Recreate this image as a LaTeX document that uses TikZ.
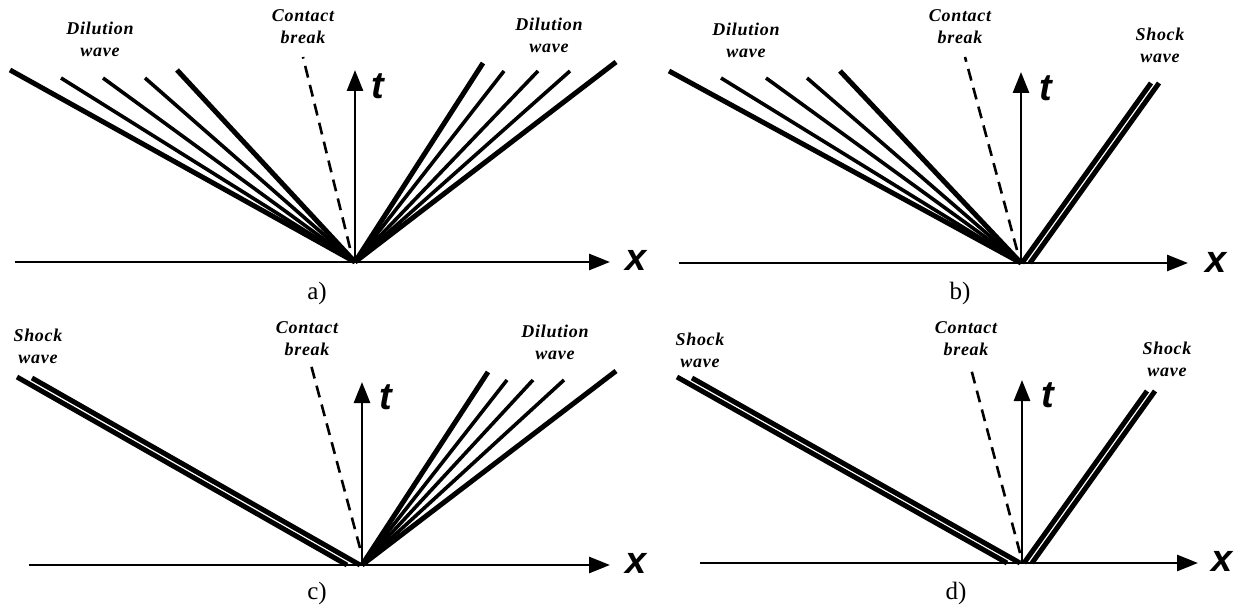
\documentclass[tikz,border=0pt]{standalone}
\usepackage{fontspec}
\setmainfont{Liberation Serif}
\newfontfamily\axfont{Liberation Sans}
\usetikzlibrary{arrows.meta}
\begin{document}
\begin{tikzpicture}[x=1pt,y=-1pt,
  axis/.style={line width=2.8pt,-{Triangle[length=21pt,width=16pt]}},
  wthick/.style={line width=5pt},
  wthin/.style={line width=3.6pt},
  cbreak/.style={line width=2.6pt,dash pattern=on 12pt off 7.5pt},
  shk/.style={line width=5pt},
  wlbl/.style={font=\fontsize{18}{22}\selectfont\bfseries\itshape\addfontfeature{LetterSpace=4},align=center,inner sep=0pt},
  axl/.style={font=\axfont\fontsize{38}{38}\selectfont\bfseries\itshape,inner sep=0pt},
  sub/.style={font=\fontsize{25}{25}\selectfont,inner sep=0pt}]
\useasboundingbox (0,0) rectangle (1236,609);
\fill[white] (0,0) rectangle (1236,609);

% ---------------- panel a ----------------
\coordinate (Oa) at (355,262);
\coordinate (axa0) at (15,262);
\coordinate (axa1) at (610,262);
\coordinate (ta) at (355,70);
\draw[axis] (axa0) -- (axa1);
\draw[axis] (Oa) -- (ta);
\coordinate (cba0) at (350,248);
\coordinate (cba1) at (303,57);
\draw[cbreak] (cba0) -- (cba1);
\foreach \px/\py/\s in {10/70/wthick,61/78/wthin,103/78/wthin,145/78/wthin,177/70/wthick,
                        483/63/wthick,504/71/wthin,538/71/wthin,570/71/wthin,616/62/wthick}
  \draw[\s] (Oa) -- (\px,\py);
\node[wlbl] (dwa1) at (100,39) {Dilution\\wave};
\node[wlbl] (cba) at (303,27) {Contact\\break};
\node[wlbl] (dwa2) at (549,35) {Dilution\\wave};
\node[axl] (tla) at (378,86) {t};
\node[axl] (xla) at (636,260) {x};
\node[sub] (suba) at (317,293) {a)};

% ---------------- panel b ----------------
\coordinate (Ob) at (1021,263);
\coordinate (axb0) at (679,263);
\coordinate (axb1) at (1188,263);
\coordinate (tb) at (1021,72);
\draw[axis] (axb0) -- (axb1);
\draw[axis] (Ob) -- (tb);
\coordinate (cbb0) at (1017,250);
\coordinate (cbb1) at (965,57);
\draw[cbreak] (cbb0) -- (cbb1);
\foreach \px/\py/\s in {669/71/wthick,721/78/wthin,766/78/wthin,807/78/wthin,840/71/wthick}
  \draw[\s] (Ob) -- (\px,\py);
\coordinate (sb1a) at (1022,263); \coordinate (sb1b) at (1151,83);
\coordinate (sb2a) at (1030,263); \coordinate (sb2b) at (1159,83);
\draw[shk] (sb1a) -- (sb1b);
\draw[shk] (sb2a) -- (sb2b);
\node[wlbl] (dwb) at (746,40) {Dilution\\wave};
\node[wlbl] (cbb) at (960,27) {Contact\\break};
\node[wlbl] (swb) at (1160,45) {Shock\\wave};
\node[axl] (tlb) at (1046,88) {t};
\node[axl] (xlb) at (1216,262) {x};
\node[sub] (subb) at (960,293) {b)};

% ---------------- panel c ----------------
\coordinate (Oc) at (362,565);
\coordinate (axc0) at (29,565);
\coordinate (axc1) at (610,565);
\coordinate (tc) at (362,382);
\draw[axis] (axc0) -- (axc1);
\draw[axis] (Oc) -- (tc);
\coordinate (cbc0) at (360,548);
\coordinate (cbc1) at (311,365);
\draw[cbreak] (cbc0) -- (cbc1);
\coordinate (sc1a) at (347,565); \coordinate (sc1b) at (17,377);
\coordinate (sc2a) at (360,565); \coordinate (sc2b) at (32,378);
\draw[shk] (sc1a) -- (sc1b);
\draw[shk] (sc2a) -- (sc2b);
\foreach \px/\py/\s in {488/372/wthick,507/380/wthin,533/380/wthin,564/380/wthin,616/371/wthick}
  \draw[\s] (Oc) -- (\px,\py);
\node[wlbl] (swc) at (38,346) {Shock\\wave};
\node[wlbl] (cbc) at (307,339) {Contact\\break};
\node[wlbl] (dwc) at (555,342) {Dilution\\wave};
\node[axl] (tlc) at (386,397) {t};
\node[axl] (xlc) at (636,563) {x};
\node[sub] (subc) at (317,593) {c)};

% ---------------- panel d ----------------
\coordinate (Od) at (1022,563);
\coordinate (axd0) at (700,563);
\coordinate (axd1) at (1198,563);
\coordinate (td) at (1022,380);
\draw[axis] (axd0) -- (axd1);
\draw[axis] (Od) -- (td);
\coordinate (cbd0) at (1020,553);
\coordinate (cbd1) at (970,365);
\draw[cbreak] (cbd0) -- (cbd1);
\coordinate (sd1a) at (1007,563); \coordinate (sd1b) at (677,377);
\coordinate (sd2a) at (1020,563); \coordinate (sd2b) at (692,378);
\draw[shk] (sd1a) -- (sd1b);
\draw[shk] (sd2a) -- (sd2b);
\coordinate (sd3a) at (1024,563); \coordinate (sd3b) at (1147,391);
\coordinate (sd4a) at (1032,563); \coordinate (sd4b) at (1155,391);
\draw[shk] (sd3a) -- (sd3b);
\draw[shk] (sd4a) -- (sd4b);
\node[wlbl] (swd1) at (700,350) {Shock\\wave};
\node[wlbl] (cbd) at (966,339) {Contact\\break};
\node[wlbl] (swd2) at (1167,359) {Shock\\wave};
\node[axl] (tld) at (1048,395) {t};
\node[axl] (xld) at (1222,561) {x};
\node[sub] (subd) at (956,593) {d)};
\end{tikzpicture}
\end{document}
